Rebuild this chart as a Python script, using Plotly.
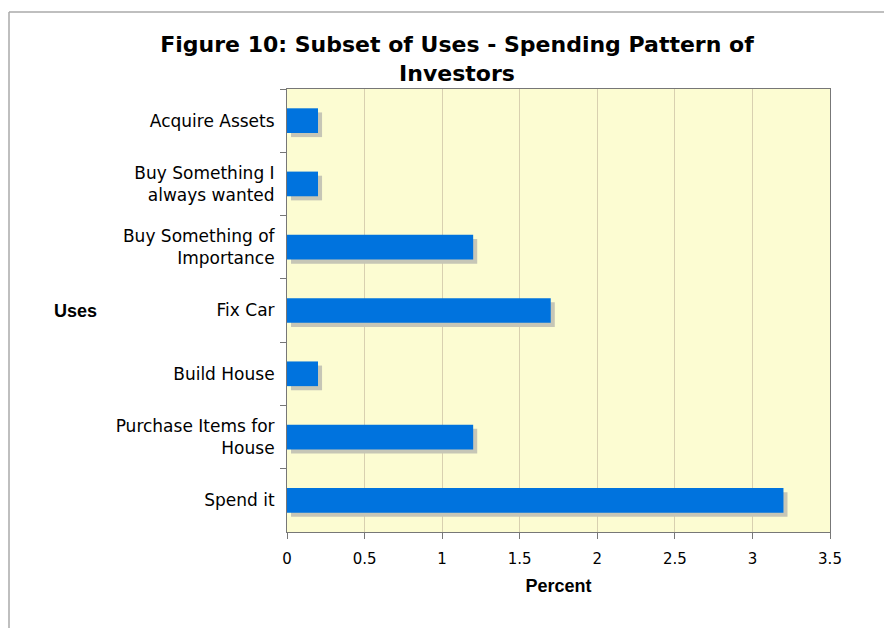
import plotly.graph_objects as go

categories = ["Acquire Assets", "Buy Something I<br>always wanted", "Buy Something of<br>Importance",
              "Fix Car", "Build House", "Purchase Items for<br>House", "Spend it"]
values = [0.2, 0.2, 1.2, 1.7, 0.2, 1.2, 3.2]
x_ticks = [0, 0.5, 1, 1.5, 2, 2.5, 3, 3.5]
x_tick_labels = ["0", "0.5", "1", "1.5", "2", "2.5", "3", "3.5"]

FONT = "DejaVu Sans"
FONT2 = "Liberation Sans"
BAR_W = 0.39

# page is offset by 8px body margin -> figure is 884x620
W, H = 884, 620
L, R, T, B = 279, 62, 81, 96
PW, PH = W - L - R, H - T - B

fig = go.Figure()
# shadow
fig.add_trace(go.Bar(
    y=categories, x=values, orientation="h",
    base=0.026, width=BAR_W, offset=-BAR_W / 2 + 0.065,
    marker=dict(color="#c6c6b6", line=dict(width=0)),
    hoverinfo="skip", showlegend=False,
))
# main bars
fig.add_trace(go.Bar(
    y=categories, x=values, orientation="h",
    width=BAR_W, offset=-BAR_W / 2,
    marker=dict(color="#0073de", line=dict(width=0)),
    showlegend=False,
))

fig.update_layout(
    width=W, height=H,
    margin=dict(l=L, r=R, t=T, b=B),
    paper_bgcolor="white",
    plot_bgcolor="#fcfcd2",
    barmode="overlay",
    font=dict(family=FONT, size=15, color="black"),
    title=dict(
        text="<b>Figure 10: Subset of Uses - Spending Pattern of<br>Investors</b>",
        x=449 / W, xref="container", xanchor="center",
        y=1 - 44 / H, yref="container", yanchor="top",
        font=dict(family=FONT, size=22, color="black"),
    ),
    xaxis=dict(
        range=[0, 3.5], tickvals=x_ticks, ticktext=x_tick_labels,
        showgrid=True, gridcolor="#d8d0b0", gridwidth=1,
        showline=True, linecolor="#777", linewidth=1, mirror=True,
        ticks="outside", ticklen=6, tickcolor="#777",
        ticklabelstandoff=7,
        zeroline=False,
        title=dict(text="<b>Percent</b>", font=dict(family=FONT2, size=18), standoff=12),
        tickfont=dict(family=FONT, size=15),
    ),
    yaxis=dict(
        autorange="reversed",
        showgrid=False,
        showline=True, linecolor="#777", linewidth=1, mirror=True,
        ticks="outside", ticklen=6, tickcolor="#777", tickson="boundaries",
        ticklabelstandoff=8,
        tickfont=dict(family=FONT, size=17),
    ),
    annotations=[dict(
        text="<b>Uses</b>", xref="paper", yref="paper",
        x=(67 - L) / PW, y=0.5, xanchor="center", yanchor="middle",
        showarrow=False, font=dict(family=FONT2, size=18, color="black"),
    )],
    shapes=[
        dict(type="line", xref="paper", yref="paper",
             x0=(1 - L) / PW, x1=(1 - L) / PW, y0=1 + (T - 4) / PH, y1=-B / PH - 0.02,
             line=dict(color="#aaaaaa", width=1.5)),
        dict(type="line", xref="paper", yref="paper",
             x0=(1 - L) / PW, x1=(W - L) / PW + 0.02, y0=1 + (T - 4) / PH, y1=1 + (T - 4) / PH,
             line=dict(color="#aaaaaa", width=1.5)),
    ],
)

fig.write_html("out.html")
